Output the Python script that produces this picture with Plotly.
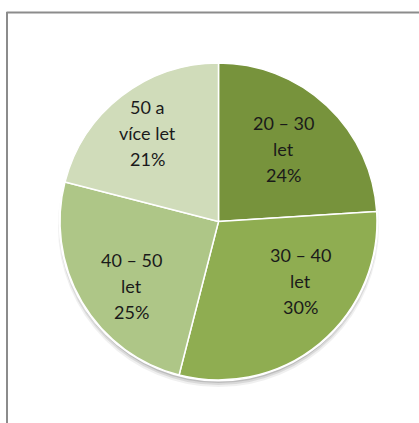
import plotly.graph_objects as go

# Age groups and their shares
labels = ["20 – 30 let", "30 – 40 let", "40 – 50 let", "50 a více let"]
label_lines = [["20 – 30", "let"], ["30 – 40", "let"], ["40 – 50", "let"], ["50 a", "více let"]]
values = [24, 30, 25, 21]
colors = ["#77933C", "#8FAD51", "#AEC687", "#D0DCBA"]

W, H = 419, 423
cx, cy, R = 218.5, 221.5, 158.5   # pie centre and radius in pixels

# label block centres (pixels from top-left)
label_pos = [(283, 149), (300, 281), (131, 286), (147, 133)]
line_gap = 26

fig = go.Figure()
fig.add_trace(go.Pie(
    labels=labels,
    values=values,
    sort=False,
    direction="clockwise",
    rotation=0,
    marker=dict(colors=colors, line=dict(color="white", width=1.5)),
    textinfo="none",
    hoverinfo="skip",
    showlegend=False,
    domain=dict(x=[(cx - R) / W, (cx + R) / W], y=[(H - cy - R) / H, (H - cy + R) / H]),
))

def px(x):
    return x / W

def py(y):
    return 1 - y / H

shapes = []
# soft drop shadow under the pie
for off, grow, alpha in [(5, 2, 0.08), (4, 1, 0.12), (3, 0, 0.18), (2, -1, 0.22)]:
    r = R + grow
    shapes.append(dict(type="circle", xref="paper", yref="paper", layer="below",
                       x0=px(cx - r), x1=px(cx + r), y0=py(cy + off + r), y1=py(cy + off - r),
                       fillcolor=f"rgba(60,60,60,{alpha})", line=dict(width=0)))
# white rim round the pie
shapes.append(dict(type="circle", xref="paper", yref="paper", layer="below",
                   x0=px(cx - R - 1.5), x1=px(cx + R + 1.5), y0=py(cy + R + 1.5), y1=py(cy - R - 1.5),
                   fillcolor="white", line=dict(width=0)))
# chart frame (top and left edges)
shapes.append(dict(type="line", xref="paper", yref="paper", x0=px(6.5), x1=1, y0=py(12.5), y1=py(12.5),
                   line=dict(color="#8C8C8C", width=2)))
shapes.append(dict(type="line", xref="paper", yref="paper", x0=px(7), x1=px(7), y0=py(12), y1=0,
                   line=dict(color="#8C8C8C", width=2)))

annotations = []
for lines, v, (lx, ly) in zip(label_lines, values, label_pos):
    rows = lines + [f"{v}%"]
    n = len(rows)
    for i, t in enumerate(rows):
        yy = ly + (i - (n - 1) / 2) * line_gap
        annotations.append(dict(text=t, x=px(lx), y=py(yy), xref="paper", yref="paper",
                                showarrow=False, xanchor="center", yanchor="middle",
                                font=dict(family="Lato", size=18, color="#1A1A1A")))

fig.update_layout(
    width=W, height=H,
    margin=dict(l=0, r=0, t=0, b=0),
    paper_bgcolor="white",
    plot_bgcolor="white",
    shapes=shapes,
    annotations=annotations,
)

fig.write_html("out.html")
